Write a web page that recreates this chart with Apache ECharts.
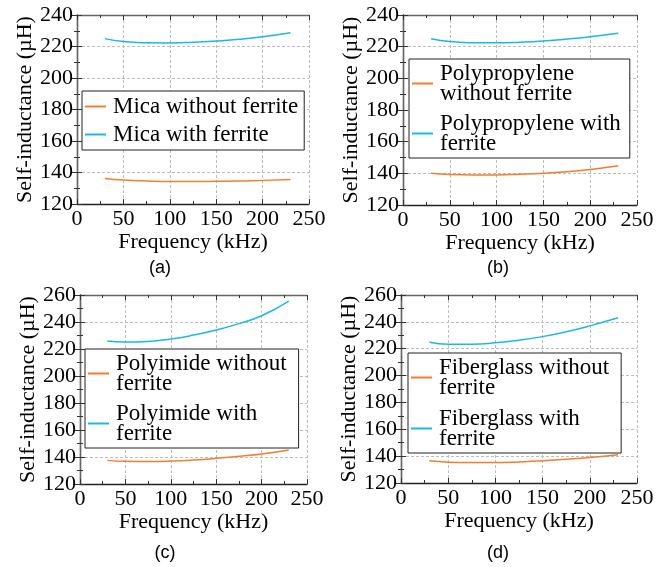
<!DOCTYPE html>
<html>
<head>
<meta charset="utf-8">
<script src="https://cdn.jsdelivr.net/npm/echarts@6/dist/echarts.min.js"></script>
<style>
  html, body { margin: 0; padding: 0; background: #fff; }
  #chart { width: 670px; height: 567px; }
</style>
</head>
<body>
<div id="chart"></div>
<script>
// Frequency sweep points (kHz)
const freq = [30, 50, 75, 100, 125, 150, 175, 200, 230];

// Self-inductance (µH) per insulation material, with and without ferrite
const micaWithout = [136.2, 135.2, 134.6, 134.3, 134.3, 134.4, 134.6, 135.0, 135.5];
const micaWith    = [225.0, 223.1, 222.4, 222.3, 222.7, 223.5, 224.6, 226.2, 228.8];
const ppWithout   = [140.0, 139.3, 139.0, 139.0, 139.4, 140.0, 141.0, 142.4, 144.8];
const ppWith      = [225.0, 223.2, 222.5, 222.4, 222.8, 223.6, 224.8, 226.3, 228.5];
const piWithout   = [137.5, 136.8, 136.7, 137.0, 137.8, 139.0, 140.5, 142.2, 145.2];
const piWith      = [226.0, 225.2, 225.6, 227.4, 230.3, 234.0, 238.8, 244.6, 255.5];
const fgWithout   = [136.5, 135.5, 135.2, 135.2, 135.7, 136.6, 137.7, 139.0, 141.0];
const fgWith      = [224.8, 223.4, 223.4, 224.4, 226.3, 229.0, 232.6, 237.0, 243.0];

// Axis ranges and captions
const xTicks = { min: 0, max: 250, interval: 50 };
const yRangeTop = { min: 120, max: 240, interval: 20 };
const yRangeBottom = { min: 120, max: 260, interval: 20 };
const captions = ['(a)', '(b)', '(c)', '(d)'];

const panels = [
  { names: ['Mica without ferrite', 'Mica with ferrite'],
    labels: ['Mica without ferrite', 'Mica with ferrite'],
    data: [micaWithout, micaWith], y: yRangeTop,
    grid: { left: 77, top: 15, width: 232, height: 189 },
    legend: { left: 82, top: 91, padding: [4, 6, 4, 3], itemGap: 5 },
    caption: { x: 160, y: 259 } },
  { names: ['Polypropylene without ferrite', 'Polypropylene with ferrite'],
    labels: ['Polypropylene\nwithout ferrite', 'Polypropylene with\nferrite'],
    data: [ppWithout, ppWith], y: yRangeTop,
    grid: { left: 403, top: 15, width: 234, height: 190 },
    legend: { left: 409, top: 59, padding: [3, 9, 3, 3], itemGap: 7 },
    caption: { x: 498, y: 259 } },
  { names: ['Polyimide without ferrite', 'Polyimide with ferrite'],
    labels: ['Polyimide without\nferrite', 'Polyimide with\nferrite'],
    data: [piWithout, piWith], y: yRangeBottom,
    grid: { left: 80, top: 295, width: 227, height: 189 },
    legend: { left: 85, top: 349, padding: [3, 12, 3, 3], itemGap: 7 },
    caption: { x: 165, y: 544 } },
  { names: ['Fiberglass without ferrite', 'Fiberglass with ferrite'],
    labels: ['Fiberglass without\nferrite', 'Fiberglass with\nferrite'],
    data: [fgWithout, fgWith], y: yRangeBottom,
    grid: { left: 401, top: 295, width: 236, height: 188 },
    legend: { left: 408, top: 353, padding: [3, 12, 3, 3], itemGap: 8 },
    caption: { x: 498, y: 544 } }
];

const colors = ['#F47D2E', '#19B9E6'];
const serif = '"Liberation Serif", "Times New Roman", serif';

const grid = [], xAxis = [], yAxis = [], series = [], legend = [], title = [];

panels.forEach((p, i) => {
  grid.push(Object.assign({ show: false }, p.grid));

  const tickStyle = { inside: true, length: 5, lineStyle: { color: '#333', width: 1 } };
  const minorStyle = { show: true, splitNumber: 2, length: 3, lineStyle: { color: '#333', width: 1 } };

  // bottom x axis
  xAxis.push({
    type: 'value', gridIndex: i, position: 'bottom',
    min: xTicks.min, max: xTicks.max, interval: xTicks.interval,
    name: 'Frequency (kHz)', nameLocation: 'middle', nameGap: 24,
    nameTextStyle: { fontFamily: serif, fontSize: 22, color: '#000' },
    axisLine: { show: true, lineStyle: { color: '#222', width: 1.3 } },
    axisTick: tickStyle, minorTick: minorStyle,
    axisLabel: { fontFamily: serif, fontSize: 22, color: '#000', margin: 4 },
    splitLine: { show: true, lineStyle: { color: '#bdbdbd', type: [3, 2], width: 1 } }
  });
  // top frame axis
  xAxis.push({
    type: 'value', gridIndex: i, position: 'top',
    min: xTicks.min, max: xTicks.max, interval: xTicks.interval,
    axisLine: { show: true, lineStyle: { color: '#666', width: 1.3 } },
    axisTick: tickStyle, minorTick: minorStyle,
    axisLabel: { show: false }, splitLine: { show: false }
  });
  // left y axis
  yAxis.push({
    type: 'value', gridIndex: i, position: 'left',
    min: p.y.min, max: p.y.max, interval: p.y.interval,
    name: 'Self-inductance (µH)', nameLocation: 'middle', nameGap: 38,
    nameTextStyle: { fontFamily: serif, fontSize: 22, color: '#000' },
    axisLine: { show: true, lineStyle: { color: '#222', width: 1.3 } },
    axisTick: tickStyle, minorTick: minorStyle,
    axisLabel: { fontFamily: serif, fontSize: 22, color: '#000', margin: 4 },
    splitLine: { show: true, lineStyle: { color: '#bdbdbd', type: [3, 2], width: 1 } }
  });
  // right frame axis
  yAxis.push({
    type: 'value', gridIndex: i, position: 'right',
    min: p.y.min, max: p.y.max, interval: p.y.interval,
    axisLine: { show: true, lineStyle: { color: '#666', width: 1.3 } },
    axisTick: tickStyle, minorTick: minorStyle,
    axisLabel: { show: false }, splitLine: { show: false }
  });

  p.names.forEach((name, k) => {
    series.push({
      name: name, type: 'line', smooth: true, showSymbol: false,
      xAxisIndex: i * 2, yAxisIndex: i * 2,
      data: freq.map((f, j) => [f, p.data[k][j]]),
      lineStyle: { color: colors[k], width: 1.5 },
      itemStyle: { color: colors[k] },
      z: 3
    });
  });

  const labelMap = {};
  p.names.forEach((n, k) => { labelMap[n] = p.labels[k]; });
  legend.push({
    data: p.names, left: p.legend.left, top: p.legend.top, orient: 'vertical',
    padding: p.legend.padding, itemGap: p.legend.itemGap,
    backgroundColor: '#fff', borderColor: '#222', borderWidth: 1,
    icon: 'rect', itemWidth: 21, itemHeight: 2,
    selectedMode: false,
    formatter: n => labelMap[n],
    textStyle: { fontFamily: serif, fontSize: 23, color: '#000', lineHeight: 20, padding: [0, 0, 0, 2] }
  });

  title.push({
    text: captions[i], left: p.caption.x, top: p.caption.y, textAlign: 'center',
    padding: 0,
    textStyle: { fontFamily: '"Liberation Sans", Arial, sans-serif', fontSize: 18, fontWeight: 'normal', color: '#000' }
  });
});

const chart = echarts.init(document.getElementById('chart'), null, { renderer: 'canvas' });
chart.setOption({
  animation: false,
  backgroundColor: '#fff',
  grid, xAxis, yAxis, series, legend, title
});
</script>
</body>
</html>
